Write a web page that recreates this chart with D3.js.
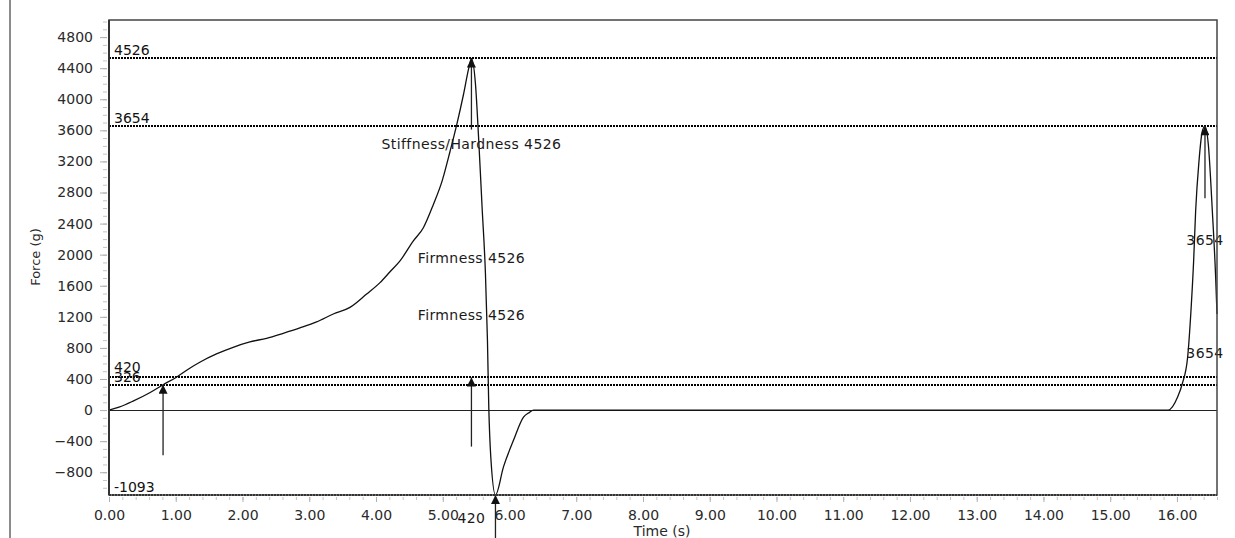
<!DOCTYPE html>
<html>
<head>
<meta charset="utf-8">
<script src="https://cdn.jsdelivr.net/npm/d3@7"></script>
<style>
  body { margin: 0; background: #fff; }
  text { font-family: "DejaVu Sans", sans-serif; }
  .tick text { font-size: 14px; fill: #2a2a2a; }
  .anno { font-size: 14px; fill: #1a1a1a; letter-spacing: 0.4px; }
  .ref-label { font-size: 14px; fill: #111; }
</style>
</head>
<body>
<script>
// force trace
var times = [0, 0.15, 0.36, 0.61, 0.81, 1.01, 1.21, 1.36, 1.61, 1.86, 2.11, 2.36, 2.61, 2.86,
  3.11, 3.36, 3.61, 3.86, 4.06, 4.21, 4.36, 4.56, 4.71, 4.86, 4.99, 5.11, 5.21, 5.31, 5.39,
  5.43, 5.49, 5.54, 5.59, 5.64, 5.67, 5.69, 5.72, 5.79, 5.91, 6.06, 6.21, 6.30, 6.36,
  10.0, 15.87, 16.01, 16.08, 16.16, 16.21, 16.25, 16.28, 16.33, 16.38, 16.42, 16.47,
  16.53, 16.58, 16.60];
var forces = [0, 38, 115, 223, 326, 423, 539, 616, 723, 808, 877, 924, 988, 1057,
  1134, 1236, 1321, 1493, 1640, 1780, 1920, 2177, 2347, 2647, 2946, 3331, 3674, 4058, 4400,
  4526, 4200, 3460, 2604, 1750, 894, 38, -603, -1093, -731, -389, -90, -30, 0,
  0, 0, 167, 339, 680, 1279, 1920, 2562, 3203, 3588, 3654, 3417,
  2562, 1706, 1237];

// dotted reference levels
var refValues = [4526, 3654, 420, 326, -1093];

// arrows: time, start force, tip force
var arrowTimes = [0.81, 5.43, 5.43, 5.79, 16.42];
var arrowFrom = [-580, -470, 3610, -1650, 2727];
var arrowTo = [326, 420, 4526, -1093, 3654];

// annotation texts and their anchor (time, force at baseline)
var annoText = ["Stiffness/Hardness 4526", "Firmness 4526", "Firmness 4526", "3654", "3654", "420"];
var annoTime = [5.43, 5.43, 5.43, 16.42, 16.42, 5.43];
var annoForce = [3360, 1893, 1159, 2125, 671, -1453];

var xTicks = d3.range(0, 17, 1);
var yTicks = d3.range(-800, 4801, 400);

var width = 1235,
    height = 538;

var plotLeft = 109, plotRight = 1217, plotTop = 20, plotBottom = 495;

var x = d3.scaleLinear()
    .domain([0, 16.6])
    .range([plotLeft, plotRight]);

var y = d3.scaleLinear()
    .domain([-1093, 5020])
    .range([plotBottom, plotTop]);

var svg = d3.select("body").append("svg")
    .attr("width", width)
    .attr("height", height);

// window frame line on the far left
svg.append("line")
    .attr("x1", 10).attr("x2", 10)
    .attr("y1", 0).attr("y2", height)
    .attr("stroke", "#666")
    .attr("stroke-width", 1.5);

// minor ticks
svg.append("g")
    .attr("transform", "translate(" + (plotLeft - 2) + ",0)")
    .call(d3.axisLeft(y).tickValues(d3.range(-1000, 5001, 100)).tickSize(4).tickFormat(""))
    .call(function(g) { g.select(".domain").remove(); g.selectAll("line").attr("stroke", "#c4c4c4"); });

svg.append("g")
    .attr("transform", "translate(0," + (plotBottom + 2) + ")")
    .call(d3.axisBottom(x).tickValues(d3.range(0, 16.61, 0.2)).tickSize(3).tickFormat(""))
    .call(function(g) { g.select(".domain").remove(); g.selectAll("line").attr("stroke", "#c4c4c4"); });

// major ticks + labels
svg.append("g")
    .attr("transform", "translate(" + (plotLeft - 2) + ",0)")
    .call(d3.axisLeft(y).tickValues(yTicks).tickSize(7).tickPadding(7).tickFormat(d3.format("d")))
    .call(function(g) {
      g.select(".domain").remove();
      g.selectAll("line").attr("stroke", "#b0b0b0");
      g.attr("font-family", null).attr("font-size", null);
    });

svg.append("g")
    .attr("transform", "translate(0," + (plotBottom + 2) + ")")
    .call(d3.axisBottom(x).tickValues(xTicks).tickSize(5).tickPadding(8).tickFormat(d3.format(".2f")))
    .call(function(g) {
      g.select(".domain").remove();
      g.selectAll("line").attr("stroke", "#b0b0b0");
      g.attr("font-family", null).attr("font-size", null);
    });

// axis titles
svg.append("text")
    .attr("transform", "translate(40,257) rotate(-90)")
    .attr("text-anchor", "middle")
    .style("font-size", "13px")
    .style("fill", "#2a2a2a")
    .text("Force (g)");

svg.append("text")
    .attr("x", 662)
    .attr("y", 536)
    .attr("text-anchor", "middle")
    .style("font-size", "14px")
    .style("fill", "#2a2a2a")
    .text("Time (s)");

// zero line
svg.append("line")
    .attr("x1", plotLeft).attr("x2", plotRight)
    .attr("y1", Math.round(y(0)) + 0.5).attr("y2", Math.round(y(0)) + 0.5)
    .attr("stroke", "#222")
    .attr("stroke-width", 1);

// dotted reference lines with labels
svg.selectAll(".ref")
    .data(refValues)
  .enter().append("line")
    .attr("class", "ref")
    .attr("x1", plotLeft).attr("x2", plotRight)
    .attr("y1", function(d) { return Math.round(y(d)); })
    .attr("y2", function(d) { return Math.round(y(d)); })
    .attr("stroke", "#000")
    .attr("stroke-width", 2)
    .attr("stroke-dasharray", "2,1");

svg.selectAll(".ref-label")
    .data(refValues)
  .enter().append("text")
    .attr("class", "ref-label")
    .attr("x", plotLeft + 5)
    .attr("y", function(d) { return y(d) - (d == 420 ? 5 : 3); })
    .text(function(d) { return d; });

// trace
var trace = times.map(function(t, i) { return [t, forces[i]]; });

var line = d3.line()
    .curve(d3.curveMonotoneX)
    .x(function(d) { return x(d[0]); })
    .y(function(d) { return y(d[1]); });

svg.append("path")
    .datum(trace)
    .attr("fill", "none")
    .attr("stroke", "#111")
    .attr("stroke-width", 1.3)
    .attr("d", line);

// arrows
svg.append("defs").append("marker")
    .attr("id", "head")
    .attr("viewBox", "0 0 10 10")
    .attr("refX", 10)
    .attr("refY", 5)
    .attr("markerUnits", "userSpaceOnUse")
    .attr("markerWidth", 11)
    .attr("markerHeight", 9)
    .attr("orient", "auto")
  .append("path")
    .attr("d", "M0,0L10,5L0,10Z")
    .attr("fill", "#111");

svg.selectAll(".arrow")
    .data(arrowTimes)
  .enter().append("line")
    .attr("class", "arrow")
    .attr("x1", function(d) { return x(d); })
    .attr("x2", function(d) { return x(d); })
    .attr("y1", function(d, i) { return y(arrowFrom[i]); })
    .attr("y2", function(d, i) { return y(arrowTo[i]); })
    .attr("stroke", "#222")
    .attr("stroke-width", 1.3)
    .attr("marker-end", "url(#head)");

// annotations
svg.selectAll(".anno")
    .data(annoText)
  .enter().append("text")
    .attr("class", "anno")
    .attr("x", function(d, i) { return x(annoTime[i]); })
    .attr("y", function(d, i) { return y(annoForce[i]); })
    .attr("text-anchor", "middle")
    .text(function(d) { return d; });

// plot frame
svg.append("rect")
    .attr("x", plotLeft).attr("y", plotTop)
    .attr("width", plotRight - plotLeft)
    .attr("height", plotBottom - plotTop)
    .attr("fill", "none")
    .attr("stroke", "#444")
    .attr("stroke-width", 1.5);

svg.append("line")
    .attr("x1", plotLeft).attr("x2", plotLeft)
    .attr("y1", plotTop).attr("y2", plotBottom)
    .attr("stroke", "#333")
    .attr("stroke-width", 2);
</script>
</body>
</html>
